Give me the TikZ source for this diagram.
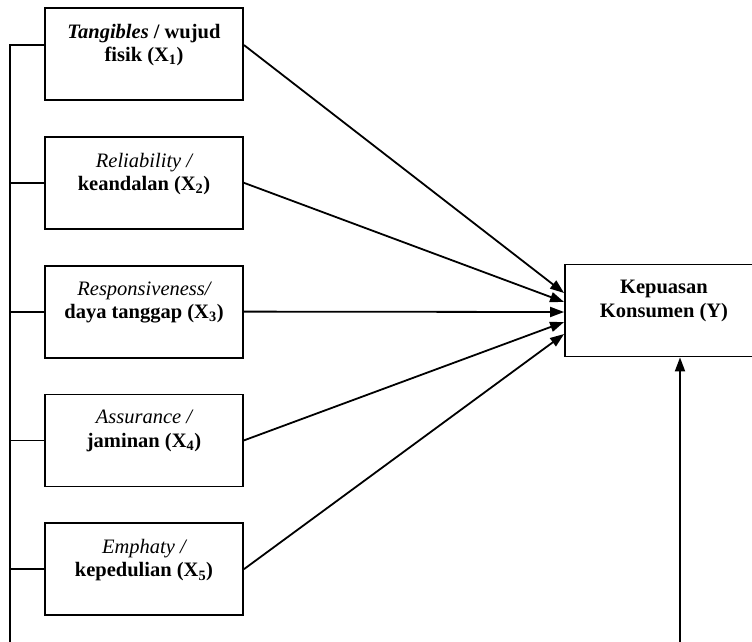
\documentclass[tikz,border=0pt]{standalone}
\usepackage{fontspec}
\setmainfont{Liberation Serif}
\usetikzlibrary{positioning,arrows.meta}

\newcommand{\boxtext}[1]{\parbox[c][76pt][t]{194pt}{\centering\fontsize{20.5}{23.5}\selectfont\bfseries\vspace*{8pt}#1}}

\begin{document}
\begin{tikzpicture}[x=1pt, y=-1pt, node distance=35pt,
        varbox/.style={draw, line width=1.8pt, minimum width=198pt, minimum height=92pt, inner sep=0pt},
        link/.style={line width=1.8pt},
        arr/.style={line width=1.8pt, -{Triangle[length=14pt,width=10pt]}}]
    \useasboundingbox (0,0) rectangle (752,641);
    \node[varbox] (x1) at (144,54) {\boxtext{\textit{Tangibles} / wujud\\fisik (X\textsubscript{1})}};
    \node[varbox, below=of x1] (x2) {\boxtext{{\mdseries\itshape Reliability /}\\keandalan (X\textsubscript{2})}};
    \node[varbox, below=of x2] (x3) {\boxtext{{\mdseries\itshape Responsiveness/}\\daya tanggap (X\textsubscript{3})}};
    \node[varbox, below=of x3] (x4) {\boxtext{{\mdseries\itshape Assurance /}\\jaminan (X\textsubscript{4})}};
    \node[varbox, below=of x4] (x5) {\boxtext{{\mdseries\itshape Emphaty /}\\kepedulian (X\textsubscript{5})}};
    \node[varbox] (y) at (664,310.5) {\boxtext{Kepuasan\\Konsumen (Y)}};
    \coordinate (bl) at (10,642.5);
    \coordinate (br) at (680,642.5);
    \draw[link] ([yshift=9pt]x1.west) -| (bl) -- (br);
    \foreach \n in {2,...,5}
        \draw[link] (x\n.west) -- (bl |- x\n.west);
    \draw[arr] (br) -- (br |- y.south);
    \draw[arr] ([yshift=9pt]x1.east) -- ([yshift=17.5pt]y.west);
    \draw[arr] (x2.east) -- ([yshift=8.5pt]y.west);
    \draw[arr] (x3.east) -- ([yshift=-1.5pt]y.west);
    \draw[arr] (x4.east) -- ([yshift=-11.5pt]y.west);
    \draw[arr] (x5.east) -- ([yshift=-23.5pt]y.west);
\end{tikzpicture}
\end{document}
